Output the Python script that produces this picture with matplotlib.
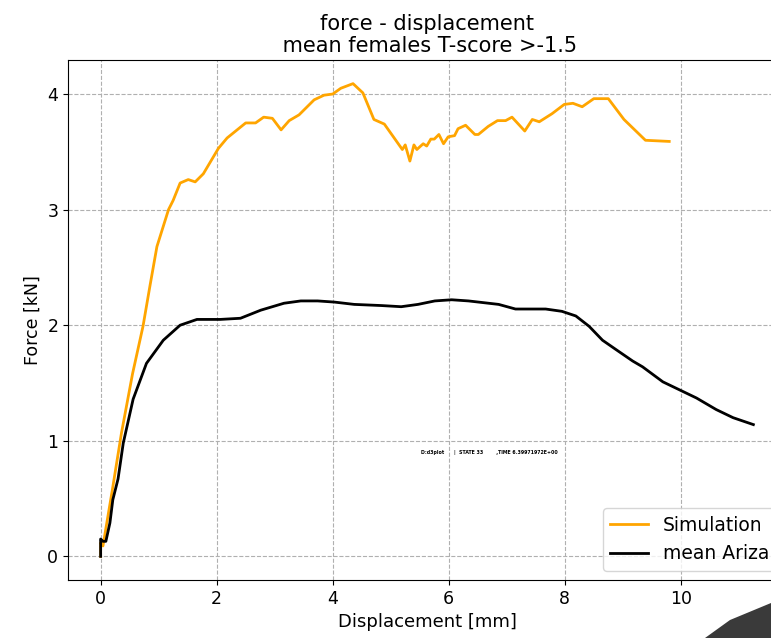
import matplotlib
matplotlib.use('Agg')
import matplotlib.pyplot as plt
from matplotlib.patches import Polygon


# Simulation curve
sim_disp = [0.0, 0.0, 0.04, 0.2, 0.36, 0.55, 0.73, 0.85, 0.97, 1.17, 1.25, 1.37, 1.51, 1.63,
	1.77, 2.03, 2.18, 2.5, 2.67, 2.81, 2.96, 3.11, 3.25, 3.42, 3.68, 3.85, 4.0, 4.14,
	4.35, 4.52, 4.71, 4.89, 5.2, 5.25, 5.33, 5.4, 5.45, 5.56, 5.62, 5.69, 5.75, 5.83,
	5.91, 5.99, 6.1, 6.16, 6.29, 6.45, 6.51, 6.68, 6.84, 6.98, 7.09, 7.31, 7.44, 7.56,
	7.78, 7.99, 8.14, 8.3, 8.5, 8.75, 9.02, 9.39, 9.8]
sim_force = [0.0, 0.12, 0.09, 0.57, 1.07, 1.58, 1.99, 2.34, 2.68, 3.0, 3.08, 3.23, 3.26, 3.24,
	3.31, 3.53, 3.62, 3.75, 3.75, 3.8, 3.79, 3.69, 3.77, 3.82, 3.95, 3.99, 4.0, 4.05,
	4.09, 4.01, 3.78, 3.74, 3.52, 3.56, 3.42, 3.56, 3.52, 3.57, 3.55, 3.61, 3.61, 3.65,
	3.57, 3.63, 3.64, 3.7, 3.73, 3.65, 3.65, 3.72, 3.77, 3.77, 3.8, 3.68, 3.78, 3.76,
	3.83, 3.91, 3.92, 3.89, 3.96, 3.96, 3.78, 3.6, 3.59]

# mean Ariza curve
ariza_disp = [0.0, 0.0, 0.04, 0.09, 0.16, 0.21, 0.3, 0.39, 0.56, 0.79, 1.08, 1.37, 1.66,
	2.06, 2.41, 2.76, 3.16, 3.45, 3.74, 4.03, 4.37, 4.84, 5.18, 5.47, 5.76, 6.05,
	6.34, 6.86, 7.15, 7.67, 7.95, 8.19, 8.42, 8.65, 8.88, 9.17, 9.34, 9.69, 9.98,
	10.27, 10.61, 10.9, 11.25]
ariza_force = [0.0, 0.15, 0.13, 0.13, 0.29, 0.49, 0.67, 0.98, 1.36, 1.67, 1.87, 2.0, 2.05,
	2.05, 2.06, 2.13, 2.19, 2.21, 2.21, 2.2, 2.18, 2.17, 2.16, 2.18, 2.21, 2.22,
	2.21, 2.18, 2.14, 2.14, 2.12, 2.08, 1.99, 1.87, 1.79, 1.69, 1.64, 1.51, 1.44,
	1.37, 1.27, 1.2, 1.14]

force_ticks = [0, 1, 2, 3, 4]
title = 'force - displacement\n mean females T-score >-1.5'
stamp = 'D:d3plot      |  STATE 33        ,TIME 6.39971972E+00'


fig = plt.figure(figsize=(7.71, 6.38), dpi=100)
ax = fig.add_axes([68 / 771, 58 / 638, 718 / 771, 520 / 638])

ax.plot(sim_disp, sim_force, color='orange', linewidth=2, label='Simulation')
ax.plot(ariza_disp, ariza_force, color='black', linewidth=2, label='mean Ariza')

ax.set_yticks(force_ticks)
ax.grid(True, linestyle='--', color='#b0b0b0')
ax.set_title(title, fontsize=15, linespacing=1.1)
ax.set_xlabel('Displacement [mm]', fontsize=13)
ax.set_ylabel('Force [kN]', fontsize=12.5)
ax.tick_params(labelsize=12.5)
ax.legend(loc='lower right', fontsize=13.5)

# LS-PrePost stamp left inside the plot
ax.text(5.53, 0.9, stamp, fontsize=3.4, fontweight='bold', va='center', ha='left')

# dark corner artifact from the screenshot
fig.patches.append(Polygon([(705 / 771, 0), (730 / 771, 18 / 638), (771 / 771, 35 / 638), (1, 0)],
	closed=True, transform=fig.transFigure, facecolor='#3a3a3a', edgecolor='none'))

fig.savefig('out.png', dpi=100)
